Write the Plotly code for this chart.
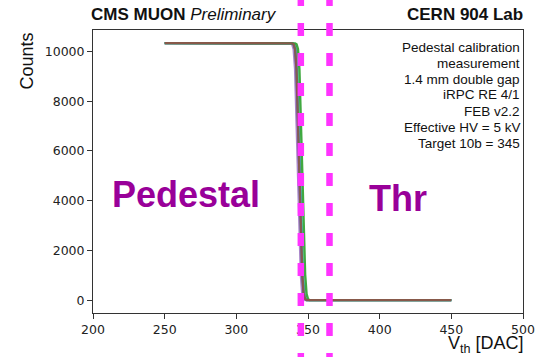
import plotly.graph_objects as go

# ---- data ----
series_names = ["ch A", "ch B", "ch C", "ch D", "ch E"]
series_colors = ["#9467bd", "#1f77b4", "#17becf", "#2ca02c", "#8c564b"]
series_opacity = [0.8, 0.8, 0.8, 0.9, 0.95]

x_purple = [250, 338, 339, 340, 341, 342, 343, 344, 345, 346, 347, 348, 450]
y_purple = [10340, 10330, 10290, 10100, 9300, 7300, 5170, 3040, 1040, 240, 50, 0, 0]

x_blue = [250, 339, 340, 341, 342, 343, 344, 345, 346, 347, 348, 349, 450]
y_blue = [10340, 10330, 10290, 10100, 9300, 7300, 5170, 3040, 1040, 240, 50, 0, 0]

x_cyan = [250, 339.5, 340.5, 341.5, 342.5, 343.5, 344.5, 345.5, 346.5, 347.5, 348.5, 349.5, 450]
y_cyan = [10340, 10330, 10290, 10100, 9300, 7300, 5170, 3040, 1040, 240, 50, 0, 0]

x_green = [250, 341, 342, 343, 344, 345, 346, 347, 348, 349, 350, 351, 450]
y_green = [10340, 10330, 10290, 10100, 9300, 7300, 5170, 3040, 1040, 240, 50, 0, 0]

x_brown = [250, 339, 340, 341, 342, 343, 344, 345, 346, 347, 348, 349, 450]
y_brown = [10340, 10330, 10290, 10100, 9300, 7300, 5170, 3040, 1040, 240, 50, 0, 0]

series_x = [x_purple, x_blue, x_cyan, x_green, x_brown]
series_y = [y_purple, y_blue, y_cyan, y_green, y_brown]

vlines = [345, 365]
x_ticks = [200, 250, 300, 350, 400, 450, 500]
y_ticks = [0, 2000, 4000, 6000, 8000, 10000]

info_lines = [
    "Pedestal calibration",
    "measurement",
    "1.4 mm double gap",
    "iRPC RE 4/1",
    "FEB v2.2",
    "Effective HV = 5 kV",
    "Target 10b = 345",
]

# ---- figure ----
W, H = 547, 357
L, R, T, B = 93, 18, 30, 44
pw, ph = W - L - R, H - T - B

def px2x(px):
    return (px - L) / pw

def py2y(py):
    return (H - B - py) / ph

fig = go.Figure()
for name, col, op, xs, ys in zip(series_names, series_colors, series_opacity, series_x, series_y):
    fig.add_trace(go.Scatter(x=xs, y=ys, mode="lines", name=name,
                             line=dict(color=col, width=2.4), opacity=op,
                             showlegend=False))

for xv in vlines:
    fig.add_shape(type="line", xref="x", yref="paper", x0=xv, x1=xv,
                  y0=py2y(-7), y1=py2y(H + 10),
                  line=dict(color="#ff33ff", width=6.5, dash="13px,17px"),
                  layer="above")

font_main = "Liberation Sans, Arial, Helvetica, sans-serif"
tick_font = dict(family="DejaVu Sans, sans-serif", size=12.5, color="#222222")

ann = []
ann.append(dict(text="<b>CMS MUON</b> <i>Preliminary</i>", xref="paper", yref="paper",
                x=px2x(89), y=py2y(26), xanchor="left", yanchor="bottom",
                showarrow=False, font=dict(family=font_main, size=17, color="#111111")))
ann.append(dict(text="<b>CERN 904 Lab</b>", xref="paper", yref="paper",
                x=px2x(531), y=py2y(26), xanchor="right", yanchor="bottom",
                showarrow=False, font=dict(family=font_main, size=17, color="#111111")))
for i, line in enumerate(info_lines):
    ann.append(dict(text=line, xref="paper", yref="paper",
                    x=px2x(528), y=py2y(47 + 16 * i), xanchor="right", yanchor="middle",
                    showarrow=False, font=dict(family=font_main, size=13.5, color="#111111")))
ann.append(dict(text="<b>Pedestal</b>", xref="paper", yref="paper",
                x=px2x(187.5), y=py2y(194), xanchor="center", yanchor="middle",
                showarrow=False, font=dict(family=font_main, size=36, color="#990099")))
ann.append(dict(text="<b>Thr</b>", xref="paper", yref="paper",
                x=px2x(402.5), y=py2y(198), xanchor="center", yanchor="middle",
                showarrow=False, font=dict(family=font_main, size=36, color="#990099")))
ann.append(dict(text="Counts", xref="paper", yref="paper", textangle=-90,
                x=px2x(26), y=py2y(30), xanchor="center", yanchor="top",
                showarrow=False, font=dict(family=font_main, size=18, color="#111111")))
ann.append(dict(text="V<sub>th</sub> [DAC]", xref="paper", yref="paper",
                x=px2x(532), y=py2y(358), xanchor="right", yanchor="bottom",
                showarrow=False, font=dict(family=font_main, size=18, color="#111111")))

fig.update_layout(
    width=W, height=H,
    margin=dict(l=L, r=R, t=T, b=B),
    paper_bgcolor="white", plot_bgcolor="white",
    annotations=ann,
    xaxis=dict(range=[200, 500], tickvals=x_ticks, ticktext=[str(v) for v in x_ticks],
               showgrid=False, zeroline=False, showline=True, linecolor="#333333",
               linewidth=1, mirror=True, ticks="outside", ticklen=5, tickcolor="#333333",
               tickfont=tick_font),
    yaxis=dict(range=[-517, 10867], tickvals=y_ticks, ticktext=[str(v) for v in y_ticks],
               showgrid=False, zeroline=False, showline=True, linecolor="#333333",
               linewidth=1, mirror=True, ticks="outside", ticklen=5, tickcolor="#333333",
               tickfont=tick_font),
)

fig.write_html("out.html")
